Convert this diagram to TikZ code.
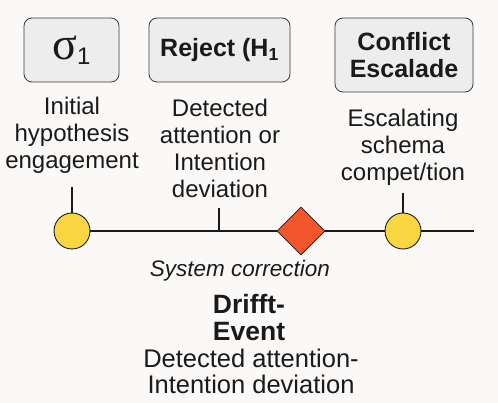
\documentclass[tikz,border=0pt]{standalone}
\usepackage{fontspec}
\setmainfont{Liberation Sans}
\newfontfamily\sigfont{Liberation Serif}
\usetikzlibrary{shapes.geometric}
\definecolor{bg}{HTML}{FBF9F7}
\definecolor{boxfill}{HTML}{EDEDED}
\definecolor{boxline}{HTML}{3A3A3A}
\definecolor{dotfill}{HTML}{FAD740}
\definecolor{diafill}{HTML}{F4562C}
\definecolor{ink}{HTML}{1A1A1A}
\tikzset{
  lab/.style={draw=boxline, line width=0.8pt, fill=boxfill, rounded corners=8pt, font=\fontsize{25}{27}\selectfont\bfseries, align=center, inner sep=0pt, text=ink},
  desc/.style={font=\fontsize{24}{27}\selectfont, align=center, text=ink},
  dot/.style={circle, draw=ink, line width=0.9pt, fill=dotfill, minimum size=36pt, inner sep=0pt},
  dia/.style={diamond, draw=ink, line width=0.8pt, fill=diafill, minimum width=48pt, minimum height=48pt, inner sep=0pt},
  tl/.style={draw=ink, line width=2.2pt},
  tick/.style={draw=ink, line width=1.1pt}
}
\begin{document}
\begin{tikzpicture}[x=1pt,y=-1pt]
\fill[bg] (0,0) rectangle (498,403);
\useasboundingbox (0,0) rectangle (498,403);
% boxes
\node[lab, minimum width=95pt, minimum height=64pt] (b1) at (71.5,50) {\fontsize{46}{46}\selectfont\sigfont\mdseries σ\raisebox{-5pt}{\fontsize{24}{24}\selectfont\rmfamily 1}};
\node[lab, minimum width=141pt, minimum height=64pt] (b2) at (219.5,50) {Reject (H\textsubscript{1}};
\node[lab, minimum width=138pt, minimum height=74pt] (b3) at (404,55) {Conflict\\Escalade};
% descriptions
\node[desc] (d1) at (72,135) {Initial\\hypothesis\\engagement};
\node[desc] (d2) at (220,148) {Detected\\attention or\\Intention\\deviation};
\node[desc] (d3) at (403,147) {Escalating\\schema\\compet/tion};
% timeline
\node[dot] (c1) at (72,231) {};
\node[dia] (dm) at (301,231) {};
\node[dot] (c2) at (403,231) {};
\coordinate (tend) at (474,231);
\coordinate (t2) at (219,231);
\coordinate (t2top) at (219,208);
\coordinate (t1top) at (72,187);
\coordinate (t3top) at (403,193);
\draw[tl] (c1) -- (dm) -- (c2) -- (tend);
\draw[tick] (t2) -- (t2top);
\draw[tick] (c1) -- (t1top);
\draw[tick] (c2) -- (t3top);
% bottom texts
\node[font=\fontsize{22.5}{24}\selectfont\itshape, text=ink] (sc) at (240,271) {System correction};
\node[font=\fontsize{26.5}{27}\selectfont\bfseries, align=center, text=ink] (ev) at (249,318) {Drifft-\\Event};
\node[desc, font=\fontsize{25.5}{26}\selectfont] (dd) at (251,371) {Detected attention-\\Intention deviation};
\end{tikzpicture}
\end{document}
